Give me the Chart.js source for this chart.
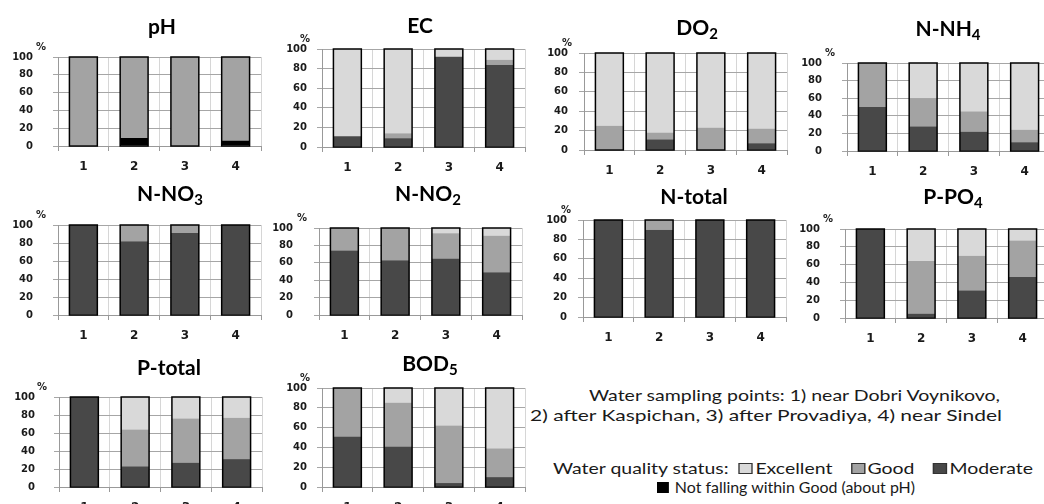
<!DOCTYPE html>
<html lang="en">
<head>
    <meta charset="UTF-8">
    <title>Water quality status by sampling point</title>
    <script src="https://cdn.jsdelivr.net/npm/chart.js"></script>
    <style>
        html, body { margin: 0; padding: 0; background: #fff; }
        body { width: 1044px; height: 504px; position: relative; overflow: hidden; }
        canvas { position: absolute; }
        .title { position: absolute; font: bold 21px/20px Lato, sans-serif; color: #000;
                 transform: translateX(-50%); white-space: nowrap; }
        .title sub { font-size: 15px; vertical-align: -4px; line-height: 0; }
        .note { position: absolute; font: 15px/15px Lato, sans-serif; color: #1a1a1a; white-space: nowrap;
                transform-origin: 0 0; }
        .sq { display: inline-block; width: 9px; height: 9px; border: 1px solid #333; margin-right: 2px;
              vertical-align: 0px; }
        .gap { display: inline-block; width: 14px; }
    </style>
</head>
<body>
    <div class="note" data-w="411" style="left:589px; top:388px;">Water sampling points: 1) near Dobri Voynikovo,</div>
    <div class="note" data-w="472" style="left:530px; top:408px;">2) after Kaspichan, 3) after Provadiya, 4) near Sindel</div>
    <div class="note" data-w="480" style="left:553px; top:461px;">Water quality status:&nbsp; <span class="sq" style="background:#d9d9d9"></span>Excellent<span class="gap"></span><span class="sq" style="background:#a3a3a3"></span>Good<span class="gap"></span><span class="sq" style="background:#484848"></span>Moderate</div>
    <div class="note" data-w="258" style="left:657px; top:480px;"><span class="sq" style="background:#000; border-color:#000"></span> Not falling within Good (about pH)</div>

    <script>
        // sampling points on the x axis
        const points = ['1', '2', '3', '4'];
        const yTicks = [0, 20, 40, 60, 80, 100];

        // share of samples (%) per status
        const phNotGood = [0, 9, 0, 6];
        const phGood = [100, 91, 100, 94];

        const ecModerate = [11, 9, 92, 84];
        const ecGood = [0, 5, 0, 5];
        const ecExcellent = [89, 86, 8, 11];

        const doModerate = [0, 11, 0, 7];
        const doGood = [25, 7, 23, 15];
        const doExcellent = [75, 82, 77, 78];

        const nh4Moderate = [50, 28, 22, 10];
        const nh4Good = [50, 32, 23, 14];
        const nh4Excellent = [0, 40, 55, 76];

        const no3Moderate = [100, 82, 91, 100];
        const no3Good = [0, 18, 9, 0];

        const no2Moderate = [74, 63, 65, 49];
        const no2Good = [26, 37, 29, 42];
        const no2Excellent = [0, 0, 6, 9];

        const ntModerate = [100, 90, 100, 100];
        const ntGood = [0, 10, 0, 0];

        const po4Moderate = [100, 5, 31, 46];
        const po4Good = [0, 59, 39, 41];
        const po4Excellent = [0, 36, 30, 13];

        const ptModerate = [100, 23, 27, 31];
        const ptGood = [0, 41, 49, 46];
        const ptExcellent = [0, 36, 24, 23];

        const bodModerate = [51, 41, 4, 10];
        const bodGood = [49, 44, 58, 29];
        const bodExcellent = [0, 15, 38, 61];

        const colExcellent = '#d9d9d9';
        const colGood = '#a3a3a3';
        const colModerate = '#484848';
        const colNotGood = '#000000';

        // panels: title + stacked series (bottom to top)
        const panels = [
            { title: 'pH', series: [['Not falling within Good', phNotGood, colNotGood], ['Good', phGood, colGood]] },
            { title: 'EC', series: [['Moderate', ecModerate, colModerate], ['Good', ecGood, colGood], ['Excellent', ecExcellent, colExcellent]] },
            { title: 'DO<sub>2</sub>', series: [['Moderate', doModerate, colModerate], ['Good', doGood, colGood], ['Excellent', doExcellent, colExcellent]] },
            { title: 'N-NH<sub>4</sub>', series: [['Moderate', nh4Moderate, colModerate], ['Good', nh4Good, colGood], ['Excellent', nh4Excellent, colExcellent]] },
            { title: 'N-NO<sub>3</sub>', series: [['Moderate', no3Moderate, colModerate], ['Good', no3Good, colGood]] },
            { title: 'N-NO<sub>2</sub>', series: [['Moderate', no2Moderate, colModerate], ['Good', no2Good, colGood], ['Excellent', no2Excellent, colExcellent]] },
            { title: 'N-total', series: [['Moderate', ntModerate, colModerate], ['Good', ntGood, colGood]] },
            { title: 'P-PO<sub>4</sub>', series: [['Moderate', po4Moderate, colModerate], ['Good', po4Good, colGood], ['Excellent', po4Excellent, colExcellent]] },
            { title: 'P-total', series: [['Moderate', ptModerate, colModerate], ['Good', ptGood, colGood], ['Excellent', ptExcellent, colExcellent]] },
            { title: 'BOD<sub>5</sub>', series: [['Moderate', bodModerate, colModerate], ['Good', bodGood, colGood], ['Excellent', bodExcellent, colExcellent]] }
        ];

        // where each small chart sits: plot left, plot top (100), plot bottom (0), label gap, title centre x/y
        const layout = [
            [58, 41, 146, 25, 162, 26],
            [322, 43, 147, 15, 420, 25],
            [584, 46, 150, 16, 697, 27],
            [847, 47, 151, 25, 948, 28],
            [58, 209, 315, 25, 170, 193],
            [319, 211, 315, 26, 428, 193],
            [583, 213, 317, 16, 694, 196],
            [845, 213, 318, 25, 953, 196],
            [59, 382, 487, 24, 169, 367],
            [322, 382, 487, 15, 430, 363]
        ];

        const catWidth = 50.8;
        const yAxisW = 50, xAxisH = 32, padTop = 10, padRight = 2;

        // stretch the note lines to the widths seen in the figure
        document.fonts.ready.then(() => {
            document.querySelectorAll('.note').forEach(el => {
                const w = el.getBoundingClientRect().width;
                el.style.transform = 'scaleX(' + (el.dataset.w / w) + ')';
            });
        });

        // black outline round each whole stack, plus the small % unit label
        const framePlugin = {
            id: 'frame',
            afterDatasetsDraw(chart) {
                const ctx = chart.ctx, y = chart.scales.y;
                const meta = chart.getDatasetMeta(0);
                ctx.save();
                ctx.strokeStyle = '#000';
                ctx.lineWidth = 1.5;
                meta.data.forEach((bar, i) => {
                    const total = chart.data.datasets.reduce((s, d) => s + d.data[i], 0);
                    const top = y.getPixelForValue(total), bottom = y.getPixelForValue(0);
                    ctx.strokeRect(bar.x - bar.width / 2, top, bar.width, bottom - top);
                });
                ctx.fillStyle = '#222';
                ctx.font = 'bold 10px "DejaVu Sans", sans-serif';
                ctx.textAlign = 'center';
                ctx.textBaseline = 'middle';
                ctx.fillText('%', chart.chartArea.left - 17, chart.chartArea.top - 10);
                ctx.restore();
            }
        };

        panels.forEach((p, k) => {
            const [left, top, bottom, gap, tx, ty] = layout[k];
            const plotH = bottom - top;
            const canvas = document.createElement('canvas');
            canvas.width = Math.round(yAxisW + 4 * catWidth + padRight);
            canvas.height = padTop + plotH + xAxisH;
            canvas.style.left = (left - yAxisW) + 'px';
            canvas.style.top = (top - padTop) + 'px';
            document.body.appendChild(canvas);

            const t = document.createElement('div');
            t.className = 'title';
            t.innerHTML = p.title;
            t.style.left = tx + 'px';
            t.style.top = (ty - 10.5) + 'px';
            document.body.appendChild(t);

            new Chart(canvas, {
                type: 'bar',
                data: {
                    labels: points,
                    datasets: p.series.map(([label, data, color]) => ({
                        label, data,
                        backgroundColor: color,
                        borderWidth: 0,
                        categoryPercentage: 1,
                        barPercentage: 0.55
                    }))
                },
                options: {
                    responsive: false,
                    animation: false,
                    devicePixelRatio: 1,
                    layout: { padding: { top: padTop, right: padRight, left: 0, bottom: 0 } },
                    plugins: { legend: { display: false }, tooltip: { enabled: false } },
                    scales: {
                        x: {
                            stacked: true,
                            grid: { color: '#d6d6d6', tickColor: '#999', tickLength: 5, offset: true },
                            border: { color: '#999' },
                            ticks: { color: '#1a1a1a', padding: 9, font: { family: 'DejaVu Sans', size: 12, weight: 'bold' } },
                            afterFit(scale) { scale.height = xAxisH; }
                        },
                        y: {
                            stacked: true,
                            min: 0, max: 100,
                            afterBuildTicks(scale) { scale.ticks = yTicks.map(v => ({ value: v })); },
                            grid: { color: '#a6a6a6', tickColor: '#a6a6a6', tickLength: 5 },
                            border: { color: '#999' },
                            ticks: { color: '#1a1a1a', padding: gap - 5, font: { family: 'DejaVu Sans', size: 10, weight: 'bold' } },
                            afterFit(scale) { scale.width = yAxisW; }
                        }
                    }
                },
                plugins: [framePlugin]
            });
        });
    </script>
</body>
</html>
